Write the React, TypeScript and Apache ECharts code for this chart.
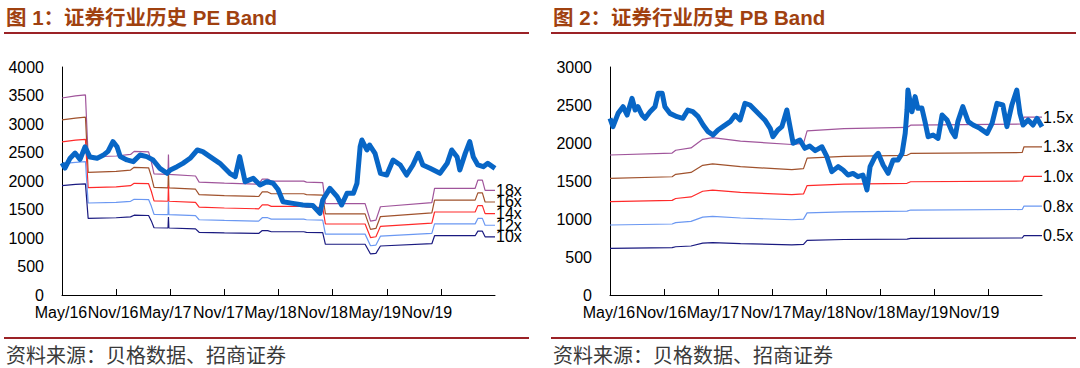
import React, { useEffect, useRef } from "react";
import * as echarts from "echarts";

// ---------- shared axis labels ----------
const xLabels = ["May/16", "Nov/16", "May/17", "Nov/17", "May/18", "Nov/18", "May/19", "Nov/19", ""];
const labelShift = [1, 3, 5, 6, 8, 10, 12, 14];

// ---------- PE chart (months since May/16) ----------
const peX = [0, 0.33, 0.9, 1.45, 2.0, 2.55, 3.1, 3.9, 4.55, 5.1, 5.65, 6.1, 6.45, 7.2, 7.9, 8.65, 9.4, 10.1, 10.85, 11.65, 12.0, 12.75, 13.4, 14.2, 15.0, 15.6, 16.4, 17.5, 18.6, 19.2, 19.7, 20.3, 21.2, 21.95, 22.7, 23.4, 23.95, 24.5, 25.6, 26.7, 27.8, 28.6, 28.9, 29.7, 30.5, 31.0, 31.6, 32.3, 32.7, 33.05, 33.25, 33.8, 34.1, 34.7, 35.3, 36.0, 36.7, 37.5, 38.2, 38.9, 39.5, 40.0, 40.8, 41.9, 42.7, 43.2, 43.8, 44.1, 44.7, 45.2, 45.6, 46.1, 46.7, 47.2, 48];
const peIndex = [2316, 2228, 2400, 2490, 2380, 2600, 2420, 2400, 2450, 2520, 2690, 2600, 2430, 2370, 2340, 2456, 2427, 2368, 2222, 2135, 2193, 2251, 2310, 2398, 2544, 2515, 2427, 2310, 2135, 2076, 2427, 1988, 2046, 1930, 1988, 1960, 1850, 1637, 1608, 1579, 1570, 1433, 1667, 1871, 1725, 1579, 1784, 1784, 1959, 2602, 2719, 2544, 2631, 2485, 2135, 2105, 2368, 2281, 2105, 2281, 2485, 2281, 2222, 2135, 2310, 2544, 2420, 2193, 2485, 2690, 2420, 2281, 2251, 2310, 2222];

const peBandX = [0, 1.5, 2.6, 2.9, 6, 7.6, 8, 9.6, 9.9, 10.2, 11.75, 11.8, 11.85, 14.8, 15.2, 18, 21.8, 22.2, 22.8, 23.2, 26.8, 27.1, 28.9, 29.2, 33.6, 34.2, 34.8, 35.3, 41, 41.3, 45.8, 46.1, 46.6, 46.9, 48];
const pe10x = [1920, 1940, 1950, 1345, 1355, 1370, 1400, 1395, 1300, 1180, 1175, 1370, 1175, 1160, 1100, 1090, 1080, 1130, 1130, 1110, 1110, 1100, 1095, 890, 890, 720, 730, 860, 900, 1040, 1040, 1120, 1120, 1020, 1020];
const pe12x = [2304, 2328, 2340, 1614, 1626, 1644, 1680, 1674, 1560, 1416, 1410, 1644, 1410, 1392, 1320, 1308, 1296, 1356, 1356, 1332, 1332, 1320, 1314, 1068, 1068, 864, 876, 1032, 1080, 1248, 1248, 1344, 1344, 1224, 1224];
const pe14x = [2688, 2716, 2730, 1883, 1897, 1918, 1960, 1953, 1820, 1652, 1645, 1918, 1645, 1624, 1540, 1526, 1512, 1582, 1582, 1554, 1554, 1540, 1533, 1246, 1246, 1008, 1022, 1204, 1260, 1456, 1456, 1568, 1568, 1428, 1428];
const pe16x = [3072, 3104, 3120, 2152, 2168, 2192, 2240, 2232, 2080, 1888, 1880, 2192, 1880, 1856, 1760, 1744, 1728, 1808, 1808, 1776, 1776, 1760, 1752, 1424, 1424, 1152, 1168, 1376, 1440, 1664, 1664, 1792, 1792, 1632, 1632];
const pe18x = [3456, 3492, 3510, 2421, 2439, 2466, 2520, 2511, 2340, 2124, 2115, 2466, 2115, 2088, 1980, 1962, 1944, 2034, 2034, 1998, 1998, 1980, 1971, 1602, 1602, 1296, 1314, 1548, 1620, 1872, 1872, 2016, 2016, 1836, 1836];

// ---------- PB chart ----------
const pbX = [0, 0.33, 0.9, 1.45, 1.9, 2.45, 2.8, 3.1, 3.55, 3.9, 4.45, 5.0, 5.35, 5.8, 6.1, 6.65, 7.45, 8.1, 8.65, 9.2, 9.8, 10.35, 10.9, 11.45, 12.0, 12.55, 13.35, 13.9, 14.45, 15.0, 15.55, 16.1, 16.65, 17.2, 17.8, 18.1, 18.65, 19.1, 19.65, 20.0, 20.35, 21.1, 21.65, 22.2, 22.8, 23.55, 24.1, 24.65, 25.35, 25.9, 26.45, 27.0, 27.55, 28.1, 28.55, 28.9, 29.45, 29.8, 30.35, 30.9, 31.45, 32.0, 32.45, 32.8, 33.0, 33.1, 33.55, 33.9, 34.2, 34.65, 35.0, 35.35, 35.9, 36.45, 36.9, 37.45, 38.0, 38.35, 38.65, 39.2, 39.8, 40.35, 41.1, 41.9, 42.45, 43.0, 43.65, 44.1, 44.65, 45.2, 45.55, 45.9, 46.45, 47.0, 47.45, 48];
const pbIndex = [2325, 2215, 2390, 2478, 2368, 2588, 2434, 2478, 2368, 2325, 2412, 2478, 2654, 2654, 2478, 2390, 2346, 2325, 2434, 2412, 2346, 2237, 2149, 2105, 2171, 2215, 2281, 2368, 2303, 2522, 2500, 2434, 2368, 2303, 2193, 2083, 2171, 2215, 2434, 2215, 1996, 2039, 1930, 1960, 1900, 1950, 1820, 1623, 1689, 1645, 1579, 1600, 1557, 1579, 1382, 1689, 1820, 1864, 1710, 1601, 1776, 1776, 1864, 2127, 2434, 2697, 2412, 2610, 2456, 2460, 2281, 2083, 2105, 2061, 2368, 2303, 2149, 2083, 2281, 2478, 2281, 2237, 2193, 2127, 2259, 2522, 2500, 2215, 2500, 2697, 2390, 2237, 2303, 2237, 2325, 2215];

const pbBandX = [0, 6.9, 7.3, 9.0, 10.3, 11.4, 14.5, 20.2, 21.5, 21.9, 26, 33.0, 33.4, 45.8, 46.0, 48];
const pb05x = [614, 623, 635, 645, 683, 690, 675, 660, 665, 720, 730, 735, 745, 750, 780, 780];
const pb08x = [921, 934, 953, 968, 1024, 1035, 1013, 990, 998, 1080, 1095, 1103, 1118, 1125, 1170, 1170];
const pb10x = [1228, 1245, 1270, 1290, 1365, 1380, 1350, 1320, 1330, 1440, 1460, 1470, 1490, 1500, 1560, 1560];
const pb13x = [1535, 1556, 1588, 1613, 1706, 1725, 1688, 1650, 1663, 1800, 1825, 1838, 1863, 1875, 1950, 1950];
const pb15x = [1842, 1868, 1905, 1935, 2048, 2070, 2025, 1980, 1995, 2160, 2190, 2205, 2235, 2250, 2340, 2340];

const FONT = "'Liberation Sans', Arial, 'Noto Sans CJK SC', sans-serif";
const C_BLUE = "#0866c6";
const C_18 = "#a0559b";
const C_16 = "#a0522d";
const C_14 = "#ff2a2a";
const C_12 = "#6b98f2";
const C_10 = "#1a1a80";

const pairs = (xs: number[], ys: number[]) => xs.map((x, i) => [x, ys[i]]);

function bandSeries(xIdx: number, yIdx: number, xs: number[], ys: number[], color: string, label: string, fs: number) {
  return {
    type: "line",
    xAxisIndex: xIdx,
    yAxisIndex: yIdx,
    data: pairs(xs, ys),
    showSymbol: false,
    symbol: "none",
    lineStyle: { color, width: 1.2 },
    itemStyle: { color },
    z: 2,
    endLabel: {
      show: true,
      formatter: label,
      color: "#000",
      fontSize: fs,
      lineHeight: 11,
      fontFamily: FONT,
      distance: 1,
    },
  };
}

function indexSeries(xIdx: number, yIdx: number, xs: number[], ys: number[]) {
  return {
    type: "line",
    xAxisIndex: xIdx,
    yAxisIndex: yIdx,
    data: pairs(xs, ys),
    showSymbol: false,
    symbol: "none",
    lineStyle: { color: C_BLUE, width: 5, join: "round" },
    itemStyle: { color: C_BLUE },
    z: 5,
  };
}

const rich: Record<string, any> = {};
labelShift.forEach((s, i) => {
  rich["s" + i] = { fontSize: 16, fontFamily: FONT, color: "#000", padding: [0, 2 * s, 0, 0] };
});

function catAxis(grid: number) {
  return {
    type: "category",
    gridIndex: grid,
    position: "bottom",
    data: xLabels,
    boundaryGap: false,
    axisLine: { show: true, onZero: false, lineStyle: { color: "#000", width: 1 } },
    axisTick: { show: true, inside: true, length: 6, interval: (i: number) => i < 8, lineStyle: { color: "#000" } },
    axisLabel: {
      interval: (i: number) => i < 8,
      margin: 9,
      formatter: (v: string, i: number) => (i < 8 ? `{s${i}|${v}}` : ""),
      rich,
    },
    splitLine: { show: false },
  };
}

function valAxisX(grid: number) {
  return { type: "value", gridIndex: grid, min: 0, max: 48, show: false, position: "bottom" };
}

function yAxis(grid: number, max: number) {
  return {
    type: "value",
    gridIndex: grid,
    min: 0,
    max,
    interval: 500,
    axisLine: { show: true, lineStyle: { color: "#000", width: 1 } },
    axisTick: { show: false },
    splitLine: { show: false },
    axisLabel: {
      fontSize: 16,
      fontFamily: FONT,
      color: "#000",
      margin: 18,
      formatter: (v: number) => String(v),
    },
  };
}

const TITLE_COLOR = "#a0410f";
const RULE_COLOR = "#9b2226";

export default function App() {
  const ref = useRef<HTMLDivElement>(null);
  useEffect(() => {
    if (!ref.current) return;
    const chart = echarts.init(ref.current, null, { renderer: "svg" });
    chart.setOption({
      animation: false,
      backgroundColor: "#fff",
      grid: [
        { left: 62, top: 67, width: 433, height: 228, containLabel: false },
        { left: 610, top: 67, width: 432, height: 228, containLabel: false },
      ],
      xAxis: [valAxisX(0), catAxis(0), valAxisX(1), catAxis(1)],
      yAxis: [yAxis(0, 4000), yAxis(1, 3000)],
      series: [
        bandSeries(0, 0, peBandX, pe18x, C_18, "18x", 16),
        bandSeries(0, 0, peBandX, pe16x, C_16, "16x", 16),
        bandSeries(0, 0, peBandX, pe14x, C_14, "14x", 16),
        bandSeries(0, 0, peBandX, pe12x, C_12, "12x", 16),
        bandSeries(0, 0, peBandX, pe10x, C_10, "10x", 16),
        indexSeries(0, 0, peX, peIndex),
        bandSeries(2, 1, pbBandX, pb15x, C_18, "1.5x", 16),
        bandSeries(2, 1, pbBandX, pb13x, C_16, "1.3x", 16),
        bandSeries(2, 1, pbBandX, pb10x, C_14, "1.0x", 16),
        bandSeries(2, 1, pbBandX, pb08x, C_12, "0.8x", 16),
        bandSeries(2, 1, pbBandX, pb05x, C_10, "0.5x", 16),
        indexSeries(2, 1, pbX, pbIndex),
      ],
      graphic: [
        {
          type: "text",
          left: 6,
          top: 7,
          style: {
            text: "图 1：证券行业历史 PE Band",
            fill: TITLE_COLOR,
            font: `bold 20.5px ${FONT}`,
          },
        },
        {
          type: "text",
          left: 553,
          top: 7,
          style: {
            text: "图 2：证券行业历史 PB Band",
            fill: TITLE_COLOR,
            font: `bold 20.5px ${FONT}`,
          },
        },
        { type: "line", shape: { x1: 4, y1: 33, x2: 529, y2: 33 }, style: { stroke: RULE_COLOR, lineWidth: 2 } },
        { type: "line", shape: { x1: 551, y1: 33, x2: 1076, y2: 33 }, style: { stroke: RULE_COLOR, lineWidth: 2 } },
        { type: "line", shape: { x1: 4, y1: 338, x2: 529, y2: 338 }, style: { stroke: RULE_COLOR, lineWidth: 2 } },
        { type: "line", shape: { x1: 551, y1: 338, x2: 1076, y2: 338 }, style: { stroke: RULE_COLOR, lineWidth: 2 } },
        {
          type: "text",
          left: 6,
          top: 344,
          style: { text: "资料来源：贝格数据、招商证券", fill: "#3a3a3a", font: `20px 'Noto Sans CJK SC', sans-serif` },
        },
        {
          type: "text",
          left: 553,
          top: 344,
          style: { text: "资料来源：贝格数据、招商证券", fill: "#3a3a3a", font: `20px 'Noto Sans CJK SC', sans-serif` },
        },
      ],
    });
    return () => chart.dispose();
  }, []);
  return (
    <div
      ref={ref}
      style={{ position: "fixed", left: 0, top: 0, width: 1080, height: 368, background: "#fff" }}
    />
  );
}
